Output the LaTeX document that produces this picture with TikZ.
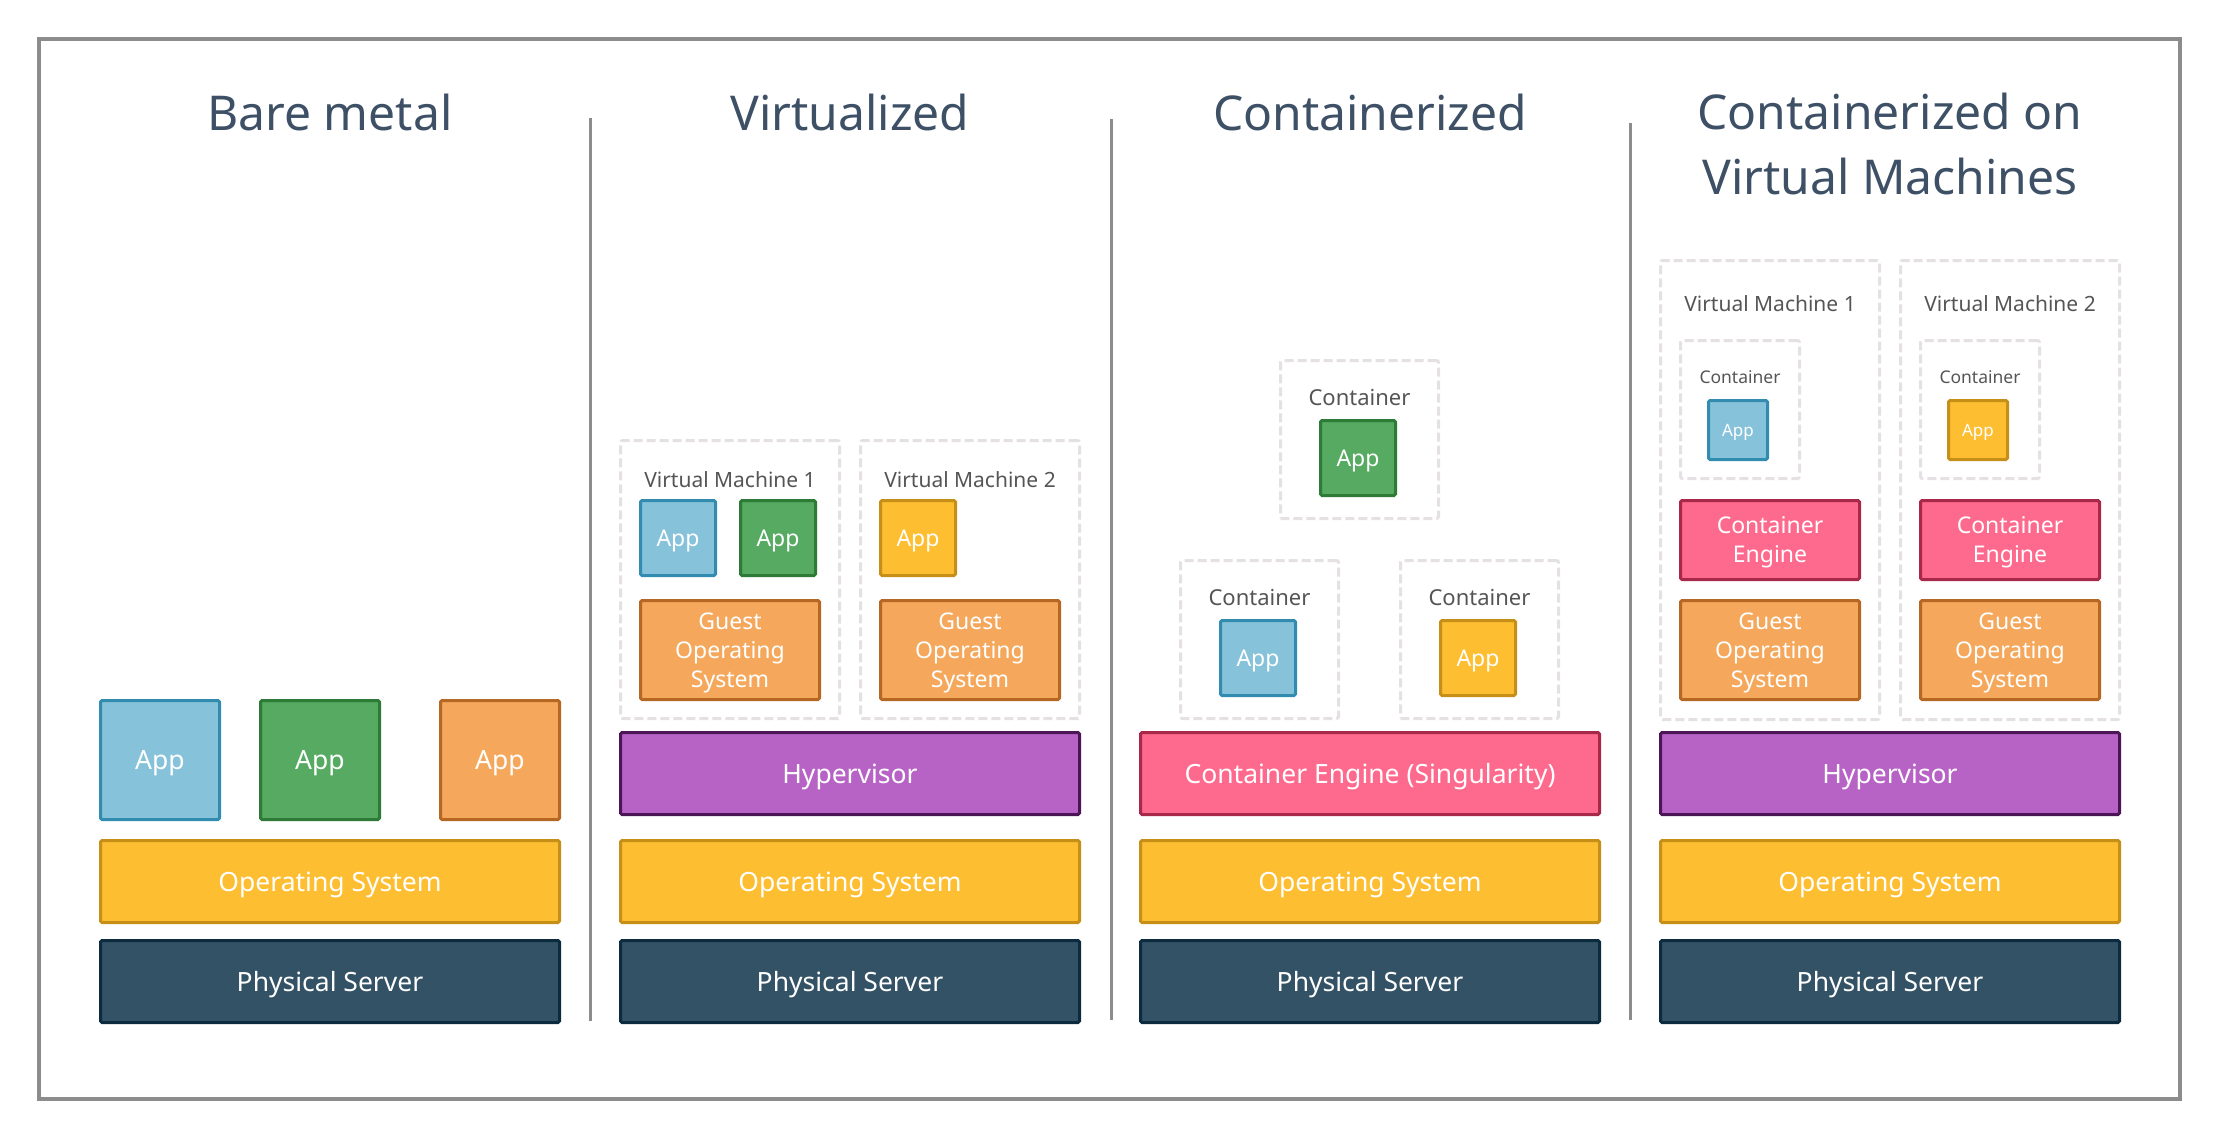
\documentclass[tikz,border=0pt]{standalone}
\usepackage{fontspec}
\setmainfont{Noto Sans}
\definecolor{frameg}{HTML}{8C8C8C}
\definecolor{titlec}{HTML}{3E5066}
\definecolor{labelc}{HTML}{555555}
\definecolor{dashc}{HTML}{E4E0E4}
\definecolor{blueF}{HTML}{86C2DA}\definecolor{blueD}{HTML}{318CAF}
\definecolor{greenF}{HTML}{56AA61}\definecolor{greenD}{HTML}{2E7A37}
\definecolor{orangeF}{HTML}{F5A85C}\definecolor{orangeD}{HTML}{B56823}
\definecolor{yellowF}{HTML}{FDBE31}\definecolor{yellowD}{HTML}{C58F18}
\definecolor{serverF}{HTML}{335265}\definecolor{serverD}{HTML}{0D2B3E}
\definecolor{hypF}{HTML}{B763C6}\definecolor{hypD}{HTML}{4B1556}
\definecolor{ceF}{HTML}{FD6A8D}\definecolor{ceD}{HTML}{A8284A}
\tikzset{
  box/.style={rectangle, line width=3pt, rounded corners=1.5pt, inner sep=0pt, outer sep=0pt, align=center, text=white, text depth=0pt},
  bluebox/.style={box, fill=blueF, draw=blueD},
  greenbox/.style={box, fill=greenF, draw=greenD},
  orangebox/.style={box, fill=orangeF, draw=orangeD},
  yellowbox/.style={box, fill=yellowF, draw=yellowD},
  serverbox/.style={box, fill=serverF, draw=serverD},
  hypbox/.style={box, fill=hypF, draw=hypD},
  cebox/.style={box, fill=ceF, draw=ceD},
  wide/.style={minimum width=459pt, minimum height=82pt, font=\fontsize{26.5}{32}\selectfont},
  bigapp/.style={minimum width=119pt, minimum height=119pt, font=\fontsize{26.5}{32}\selectfont},
  midapp/.style={minimum width=75pt, minimum height=75pt, font=\fontsize{23}{29}\selectfont},
  smallapp/.style={minimum width=59pt, minimum height=59pt, font=\fontsize{17}{21}\selectfont},
  gos/.style={minimum width=179pt, minimum height=99pt, font=\fontsize{23}{29}\selectfont},
  cesmall/.style={minimum width=179pt, minimum height=79pt, font=\fontsize{23}{29}\selectfont},
  dashbox/.style={rectangle, draw=dashc, line width=3pt, dash pattern=on 9pt off 4pt, rounded corners=2pt, inner sep=0pt},
  title/.style={anchor=base, text=titlec, font=\fontsize{48}{65}\selectfont, inner sep=0pt},
  vmlabel/.style={anchor=base, text=labelc, font=\fontsize{21}{25}\selectfont, inner sep=0pt},
  ctlabel/.style={anchor=base, text=labelc, font=\fontsize{22}{26}\selectfont, inner sep=0pt},
  ctsmall/.style={anchor=base, text=labelc, font=\fontsize{17.5}{21}\selectfont, inner sep=0pt},
  divider/.style={draw=frameg, line width=3pt}
}
\begin{document}
\begin{tikzpicture}[x=1pt,y=-1pt]
\useasboundingbox (0,0) rectangle (2220,1141);
\draw[frameg, line width=3.5pt] (39,39) rectangle (2180,1099);
% dividers
\coordinate (d1t) at (590,118); \coordinate (d1b) at (590,1021);
\coordinate (d2t) at (1111,119); \coordinate (d2b) at (1111,1020);
\coordinate (d3t) at (1630,123); \coordinate (d3b) at (1630,1020);
\draw[divider] (d1t) -- (d1b);
\draw[divider] (d2t) -- (d2b);
\draw[divider] (d3t) -- (d3b);
% titles
\node[title] (t1) at (330,130) {Bare metal};
\node[title] (t2) at (850,130) {Virtualized};
\node[title] (t3) at (1370,130) {Containerized};
\node[title] (t4a) at (1890,129) {Containerized on};
\node[title] (t4b) at (1890,194) {Virtual Machines};
% ---------- Panel 1
\node[bluebox, bigapp] (a1) at (160,760) {App};
\node[greenbox, bigapp] (a2) at (320,760) {App};
\node[orangebox, bigapp] (a3) at (500,760) {App};
\node[yellowbox, wide] (os1) at (330,881.5) {Operating System};
\node[serverbox, wide] (ps1) at (330,981.5) {Physical Server};
% ---------- Panel 2
\node[dashbox, minimum width=219pt, minimum height=278pt] (vm2a) at (730,579.5) {};
\node[dashbox, minimum width=219pt, minimum height=278pt] (vm2b) at (970,579.5) {};
\node[vmlabel] (vl2a) at (730,487) {Virtual Machine 1};
\node[vmlabel] (vl2b) at (970,487) {Virtual Machine 2};
\node[bluebox, midapp] (app2a) at (678,538) {App};
\node[greenbox, midapp] (app2b) at (778,538) {App};
\node[yellowbox, midapp] (app2c) at (918,538) {App};
\node[orangebox, gos] (gos2a) at (730,650) {Guest\\Operating\\System};
\node[orangebox, gos] (gos2b) at (970,650) {Guest\\Operating\\System};
\node[hypbox, wide] (hyp2) at (850,773.5) {Hypervisor};
\node[yellowbox, wide] (os2) at (850,881.5) {Operating System};
\node[serverbox, wide] (ps2) at (850,981.5) {Physical Server};
% ---------- Panel 3
\node[dashbox, minimum width=158pt, minimum height=158pt] (c3a) at (1359.5,439.5) {};
\node[dashbox, minimum width=158pt, minimum height=158pt] (c3b) at (1259.5,639.5) {};
\node[dashbox, minimum width=158pt, minimum height=158pt] (c3c) at (1479.5,639.5) {};
\node[ctlabel] (cl3a) at (1359.5,405.5) {Container};
\node[ctlabel] (cl3b) at (1259.5,605.5) {Container};
\node[ctlabel] (cl3c) at (1479.5,605.5) {Container};
\node[greenbox, midapp] (app3a) at (1358,458) {App};
\node[bluebox, midapp] (app3b) at (1258,658) {App};
\node[yellowbox, midapp] (app3c) at (1478,658) {App};
\node[cebox, wide] (ce3) at (1370,773.5) {Container Engine (Singularity)};
\node[yellowbox, wide] (os3) at (1370,881.5) {Operating System};
\node[serverbox, wide] (ps3) at (1370,981.5) {Physical Server};
% ---------- Panel 4
\node[dashbox, minimum width=219pt, minimum height=459pt] (vm4a) at (1770,490) {};
\node[dashbox, minimum width=219pt, minimum height=459pt] (vm4b) at (2010,490) {};
\node[vmlabel] (vl4a) at (1770,311) {Virtual Machine 1};
\node[vmlabel] (vl4b) at (2010,311) {Virtual Machine 2};
\node[dashbox, minimum width=119pt, minimum height=138pt] (ct4a) at (1740,409.5) {};
\node[dashbox, minimum width=119pt, minimum height=138pt] (ct4b) at (1980,409.5) {};
\node[ctsmall] (cl4a) at (1740,383) {Container};
\node[ctsmall] (cl4b) at (1980,383) {Container};
\node[bluebox, smallapp] (sapp4a) at (1738,430) {App};
\node[yellowbox, smallapp] (sapp4b) at (1978,430) {App};
\node[cebox, cesmall] (ce4a) at (1770,540) {Container\\Engine};
\node[cebox, cesmall] (ce4b) at (2010,540) {Container\\Engine};
\node[orangebox, gos] (gos4a) at (1770,650) {Guest\\Operating\\System};
\node[orangebox, gos] (gos4b) at (2010,650) {Guest\\Operating\\System};
\node[hypbox, wide] (hyp4) at (1890,773.5) {Hypervisor};
\node[yellowbox, wide] (os4) at (1890,881.5) {Operating System};
\node[serverbox, wide] (ps4) at (1890,981.5) {Physical Server};
\end{tikzpicture}
\end{document}
